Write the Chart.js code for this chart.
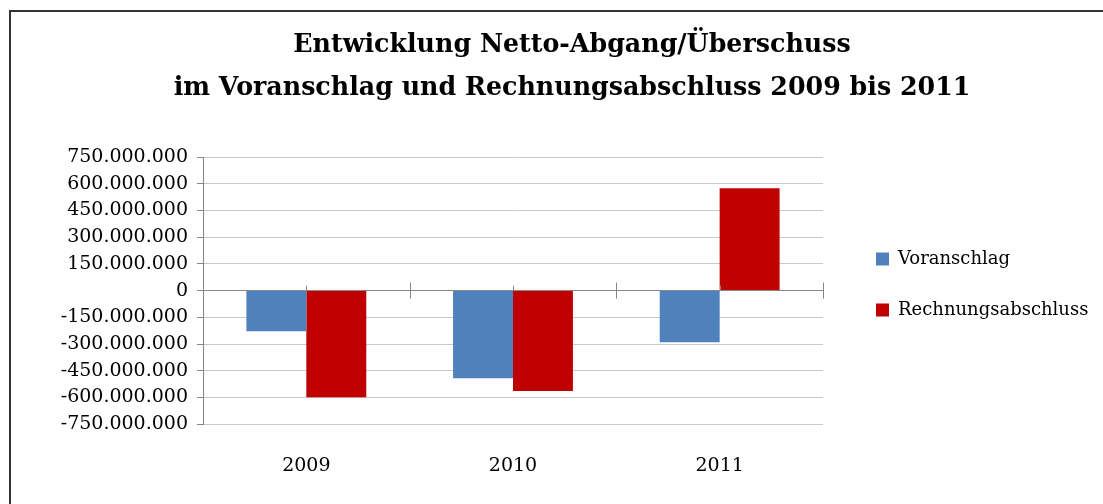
<!DOCTYPE html>
<html>
<head>
<meta charset="utf-8">
<title>Entwicklung Netto-Abgang/Überschuss</title>
<script src="https://cdn.jsdelivr.net/npm/chart.js@4"></script>
<style>
	html, body { margin: 0; padding: 0; background: #fff; overflow: hidden; }
	#frame { position: absolute; left: 9px; top: 10px; width: 1200px; height: 600px; border: 2px solid #333; }
	#wrap { position: absolute; left: 0; top: 0; width: 1103px; height: 504px; }
</style>
</head>
<body>
<div id="frame"></div>
<div id="wrap"><canvas id="nettoChart" width="1103" height="504"></canvas></div>
<script>
var years = ['2009', '2010', '2011'];
var voranschlag = [-228000000, -492000000, -290000000];
var rechnungsabschluss = [-598000000, -563000000, 574000000];
var yMin = -750000000;
var yMax = 750000000;
var yStep = 150000000;
var titleLines = [
	'Entwicklung Netto-Abgang/Überschuss',
	'im Voranschlag und Rechnungsabschluss 2009 bis 2011'
];

(function(window, document, undefined) {
	document.addEventListener('DOMContentLoaded', function() {
		var serif = '"DejaVu Serif", "Liberation Serif", serif';
		var axisGrey = '#868686';
		var gridGrey = '#c8c8c8';

		// zero line ticks, like the crossing axis in the original
		var zeroTicks = {
			id: 'zeroTicks',
			afterDatasetsDraw: function(chart) {
				var x = chart.scales.x;
				var y0 = chart.scales.y.getPixelForValue(0);
				var ctx = chart.ctx;
				var step = x.width / years.length;
				ctx.save();
				ctx.strokeStyle = axisGrey;
				ctx.lineWidth = 1;
				ctx.beginPath();
				for (var i = 1; i <= years.length; i++) {
					var bx = Math.round(x.left + i * step) + 0.5;
					ctx.moveTo(bx, y0 - 8);
					ctx.lineTo(bx, y0 + 8);
				}
				for (var j = 0; j < years.length; j++) {
					var cx = Math.round(x.getPixelForValue(j)) + 0.5;
					ctx.moveTo(cx, y0 - 5);
					ctx.lineTo(cx, y0);
				}
				ctx.stroke();
				ctx.restore();
			}
		};

		var legendPlace = {
			id: 'legendPlace',
			beforeInit: function(chart) {
				var fit = chart.legend.fit;
				chart.legend.fit = function() {
					fit.bind(chart.legend)();
					this.width = 280;
				};
			},
			afterLayout: function(chart) {
				chart.legend.left += 20;
				chart.legend.top += 31;
				chart.legend.bottom += 31;
			}
		};

		var ctx = document.querySelector('#nettoChart');
		var nettoChart = new Chart(ctx, {
			type: 'bar',
			data: {
				labels: years,
				datasets: [{
					label: 'Voranschlag',
					data: voranschlag,
					backgroundColor: '#4f81bd'
				}, {
					label: 'Rechnungsabschluss',
					data: rechnungsabschluss,
					backgroundColor: '#c00000'
				}]
			},
			options: {
				responsive: false,
				animation: false,
				layout: {
					padding: { left: 41, right: 0, top: 0, bottom: -3 }
				},
				datasets: {
					bar: {
						categoryPercentage: 0.58,
						barPercentage: 1
					}
				},
				scales: {
					x: {
						grid: {
							display: true,
							offset: true,
							drawTicks: false,
							color: function(c) {
								return c.index === years.length ? gridGrey : 'rgba(0,0,0,0)';
							}
						},
						border: { display: false },
						ticks: {
							color: '#000',
							padding: 30,
							font: { family: serif, size: 19 }
						}
					},
					y: {
						min: yMin,
						max: yMax,
						afterFit: function(scale) {
							scale.width = 162;
						},
						ticks: {
							stepSize: yStep,
							autoSkip: false,
							color: '#000',
							padding: 9,
							font: { family: serif, size: 19 },
							callback: function(v) {
								return Number(v).toLocaleString('de-DE');
							}
						},
						grid: {
							tickLength: 6,
							tickColor: axisGrey,
							color: function(c) {
								return c.tick && c.tick.value === 0 ? axisGrey : gridGrey;
							}
						},
						border: { color: axisGrey }
					}
				},
				plugins: {
					title: {
						display: true,
						text: titleLines,
						color: '#000',
						font: { family: serif, size: 25.3, weight: 'bold', lineHeight: 1.7 },
						padding: { top: 24, bottom: 47 }
					},
					legend: {
						position: 'right',
						align: 'center',
						labels: {
							color: '#000',
							boxWidth: 13,
							boxHeight: 13,
							padding: 33,
							font: { family: serif, size: 18 }
						}
					},
					tooltip: { enabled: false }
				}
			},
			plugins: [zeroTicks, legendPlace]
		});
	}, false);
})(window, document);
</script>
</body>
</html>
